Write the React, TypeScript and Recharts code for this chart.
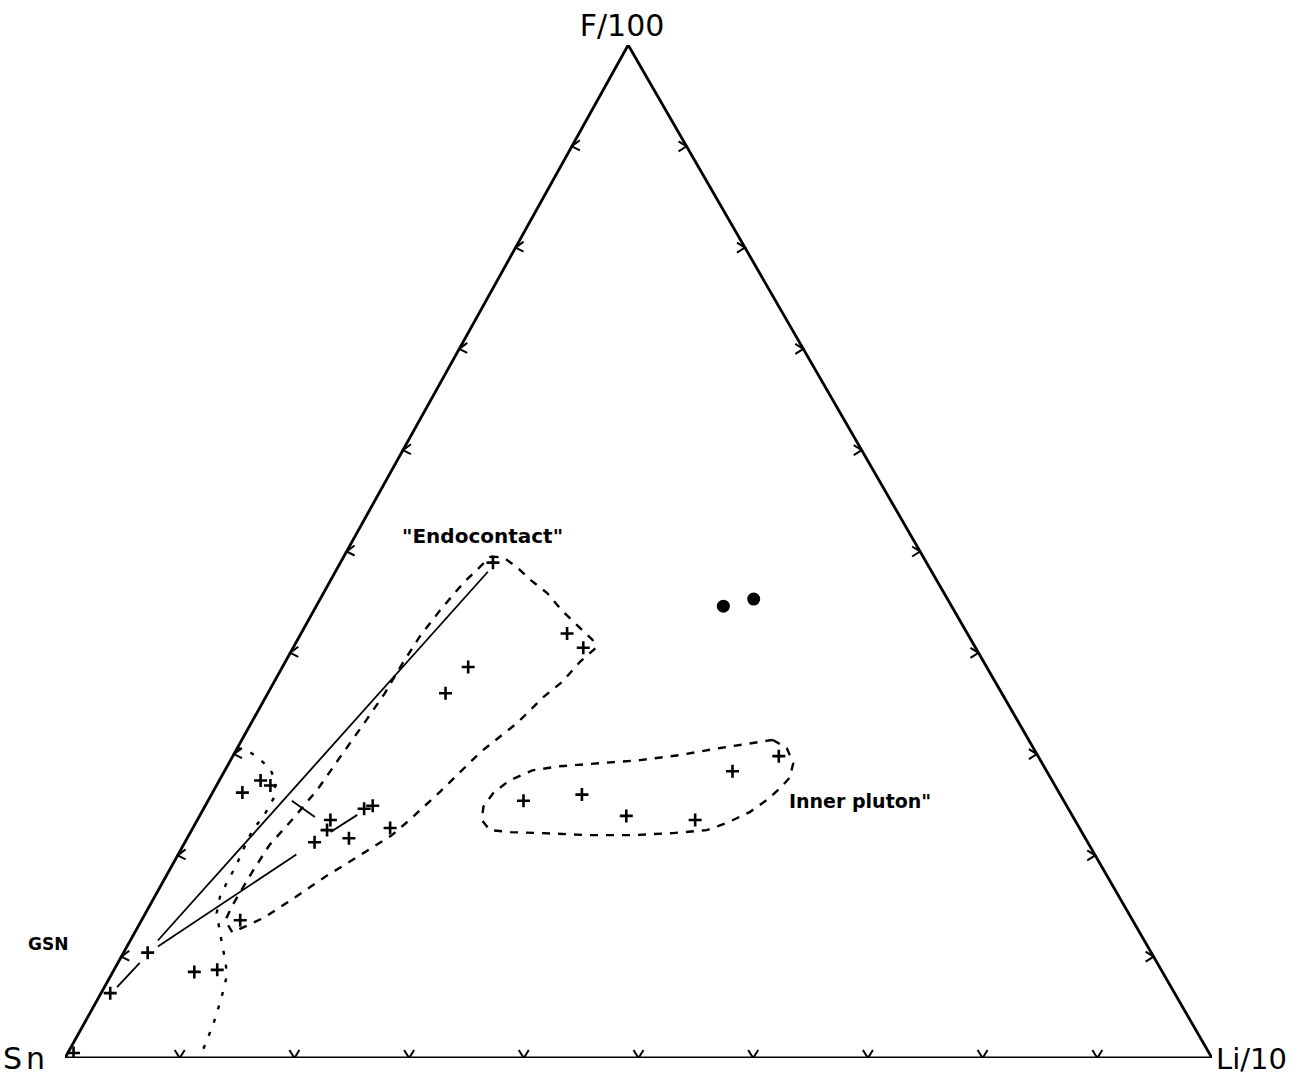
import React from "react";
import { ScatterChart, Scatter, XAxis, YAxis, Customized } from "recharts";

// compositions as [F/100 %, Li/10 %], Sn/100 is the rest
const endocontactSamples = [
  [48.9, 13.3], [41.9, 23.2], [40.5, 25.3], [38.6, 16.2], [36.0, 15.5],
  [24.9, 14.6], [24.6, 14.0], [23.5, 11.6], [22.5, 11.8], [21.3, 11.3],
  [21.7, 14.1], [22.7, 17.2], [13.6, 8.6], [27.4, 3.6], [26.9, 4.7],
  [26.2, 2.6], [10.4, 2.1], [6.4, 0.8], [8.5, 7.1], [8.7, 9.0], [0.5, 0.5],
];
const innerPlutonSamples = [
  [25.4, 27.5], [26.0, 32.3], [23.9, 37.2], [23.5, 43.4], [28.3, 44.3], [29.8, 47.6],
];
const otherSamples = [[44.6, 35.5], [45.3, 37.8]];

const endocontactField = [
  [49.5, 12.8], [49.4, 14.0], [48.4, 15.7], [47.2, 17.4], [45.9, 19.5], [44.2, 21.6],
  [42.7, 23.7], [41.3, 25.7], [40.5, 26.4], [39.1, 25.7], [37.1, 25.1], [35.6, 24.2],
  [33.1, 23.2], [30.2, 21.4], [26.3, 19.8], [23.5, 18.5], [22.0, 17.7], [19.8, 15.7],
  [17.9, 13.9], [15.9, 12.3], [13.9, 10.6], [13.1, 9.5], [12.4, 8.5], [13.6, 7.3],
  [15.1, 7.2], [18.3, 7.3], [21.0, 7.5], [23.7, 8.3], [26.5, 9.0], [29.7, 9.4],
  [33.4, 9.9], [36.0, 10.2], [39.0, 10.3], [41.6, 10.5], [44.2, 11.0], [46.9, 11.7],
  [49.5, 12.8],
];
const gsnBoundary = [
  [30.6, 0], [30.4, 0.9], [29.7, 2.2], [28.6, 3.8], [27.4, 4.9], [25.7, 5.6],
  [23.9, 5.6], [22.5, 5.3], [21.0, 5.4], [18.9, 5.6], [17.4, 5.6], [15.9, 5.7],
  [14.3, 6.2], [12.6, 7.3], [11.2, 8.2], [9.7, 9.2], [8.2, 10.1], [6.4, 10.6],
  [4.7, 11.0], [3.3, 11.3], [1.8, 11.5], [0.3, 11.7],
];
const innerPlutonField = [
  [31.4, 46.3], [30.6, 47.9], [29.1, 49.2], [27.7, 49.6], [26.7, 49.3], [25.5, 48.7],
  [24.3, 47.8], [23.2, 46.3], [22.5, 44.9], [22.2, 42.1], [22.0, 38.7], [22.0, 34.7],
  [22.2, 30.8], [22.3, 27.9], [22.5, 26.0], [23.5, 24.8], [24.8, 24.3], [26.2, 24.5],
  [27.4, 25.3], [28.4, 26.8], [28.8, 29.0], [29.1, 32.3], [29.4, 35.7], [29.9, 38.9],
  [30.6, 42.1], [31.1, 44.7], [31.4, 46.3],
];
const trendLines = [
  [[11.6, 2.4], [48.0, 13.3]],
  [[11.0, 2.7], [20.1, 10.3]],
  [[25.4, 7.3], [23.8, 10.1]],
  [[22.3, 12.2], [24.0, 13.7]],
  [[9.4, 1.9], [7.0, 1.1]],
];
const frame = [[0, 0], [0, 100], [100, 0], [0, 0]];
const tickSteps = [10, 20, 30, 40, 50, 60, 70, 80, 90];

// the drawn apex sits a little left of the middle of the base
const APEX = 0.491;
const toXY = (pts: number[][]) => pts.map(([f, li]) => ({ x: li + f * APEX, y: f }));

const leftTicks = toXY(tickSteps.map((f) => [f, 0]));
const rightTicks = toXY(tickSteps.map((f) => [f, 100 - f]));
const baseTicks = toXY(tickSteps.map((li) => [0, li]));

const Nothing = () => <g />;
const Plus = ({ cx, cy }: any) => (
  <path d={`M${cx - 6.5},${cy}H${cx + 6.5}M${cx},${cy - 6.5}V${cy + 6.5}`} stroke="#000" strokeWidth={2.6} />
);
const Dot = ({ cx, cy }: any) => <circle cx={cx} cy={cy} r={6.5} fill="#000" />;
const chevron = (dx1: number, dy1: number, dx2: number, dy2: number) => ({ cx, cy }: any) => (
  <path d={`M${cx + dx1},${cy + dy1}L${cx},${cy}L${cx + dx2},${cy + dy2}`} stroke="#000" strokeWidth={2} fill="none" />
);

const font = "'DejaVu Sans', sans-serif";

const Labels = () => (
  <g fontFamily={font} fill="#000">
    <text x={622} y={36} fontSize={30} textAnchor="middle">F/100</text>
    <text x={3} y={1069} fontSize={30} letterSpacing={4}>Sn</text>
    <text x={1216} y={1069} fontSize={29}>Li/10</text>
    <text x={28} y={950} fontSize={17} fontWeight="bold">GSN</text>
    <text x={402} y={543} fontSize={20} fontWeight="bold">"Endocontact"</text>
    <text x={789} y={808} fontSize={19} fontWeight="bold">Inner pluton"</text>
  </g>
);

export default function App() {
  const solid = { stroke: "#000", strokeWidth: 2.8, fill: "none" };
  return (
    <div style={{ position: "absolute", left: 0, top: 0, width: 1298, height: 1079, background: "#fff" }}>
      <ScatterChart width={1298} height={1079} margin={{ top: 45, right: 86, bottom: 21, left: 65 }}>
        <XAxis type="number" dataKey="x" domain={[0, 100]} hide allowDataOverflow />
        <YAxis type="number" dataKey="y" domain={[0, 100]} hide allowDataOverflow />
        <Scatter data={toXY(frame)} line={solid} shape={Nothing} isAnimationActive={false} />
        <Scatter data={leftTicks} shape={chevron(8, -6, 8, 4)} isAnimationActive={false} />
        <Scatter data={rightTicks} shape={chevron(-8, -5, -8, 5)} isAnimationActive={false} />
        <Scatter data={baseTicks} shape={chevron(-5, -8, 5, -8)} isAnimationActive={false} />
        <Scatter
          data={toXY(endocontactField)}
          line={{ stroke: "#000", strokeWidth: 2.4, strokeDasharray: "8 8", fill: "none" }}
          shape={Nothing}
          isAnimationActive={false}
        />
        <Scatter
          data={toXY(gsnBoundary)}
          line={{ stroke: "#000", strokeWidth: 2.4, strokeDasharray: "4 10", fill: "none" }}
          shape={Nothing}
          isAnimationActive={false}
        />
        <Scatter
          data={toXY(innerPlutonField)}
          line={{ stroke: "#000", strokeWidth: 2.4, strokeDasharray: "8 8", fill: "none" }}
          shape={Nothing}
          isAnimationActive={false}
        />
        {trendLines.map((seg, i) => (
          <Scatter
            key={`trend-${i}`}
            data={toXY(seg)}
            line={{ stroke: "#000", strokeWidth: 1.8, fill: "none" }}
            shape={Nothing}
            isAnimationActive={false}
          />
        ))}
        <Scatter data={toXY(endocontactSamples)} shape={Plus} isAnimationActive={false} />
        <Scatter data={toXY(innerPlutonSamples)} shape={Plus} isAnimationActive={false} />
        <Scatter data={toXY(otherSamples)} shape={Dot} isAnimationActive={false} />
        <Customized component={Labels} />
      </ScatterChart>
    </div>
  );
}
